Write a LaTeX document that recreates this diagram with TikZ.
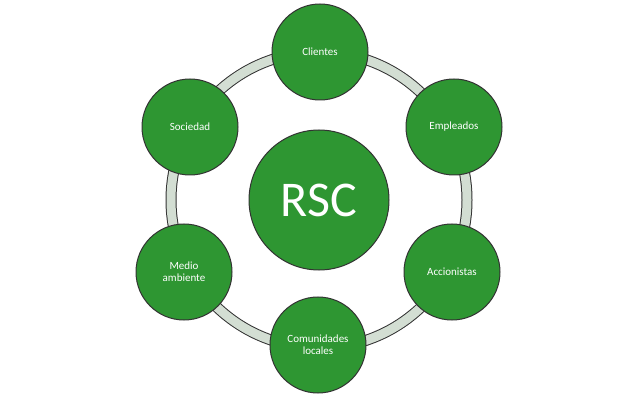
\documentclass[tikz,border=0pt]{standalone}
\usepackage{fontspec}
\setmainfont{Carlito}
\definecolor{gr}{HTML}{2E9632}
\definecolor{ring}{HTML}{D3DED3}
\begin{document}
\begin{tikzpicture}[x=1pt,y=-1pt,
  sat/.style={circle,draw=black!80,line width=1pt,fill=gr,minimum size=96pt,inner sep=0pt,text=white,font=\fontsize{11}{12}\selectfont,align=center},
  hub/.style={sat,minimum size=140pt,font=\fontsize{50}{56}\selectfont}]
\useasboundingbox (0,0) rectangle (640,406);
\draw[black!80,line width=11pt] (319,200) circle (148);
\draw[ring,line width=9pt] (319,200) circle (148);
\node[hub] (rsc) at (319,200) {RSC};
\node[sat] (cli) at (320,52) {Clientes};
\node[sat] (emp) at (454,127) {Empleados};
\node[sat] (acc) at (452,272) {Accionistas};
\node[sat] (com) at (318,345) {Comunidades\\locales};
\node[sat] (med) at (184,272) {Medio\\ambiente};
\node[sat] (soc) at (190,127) {Sociedad};
\end{tikzpicture}
\end{document}
